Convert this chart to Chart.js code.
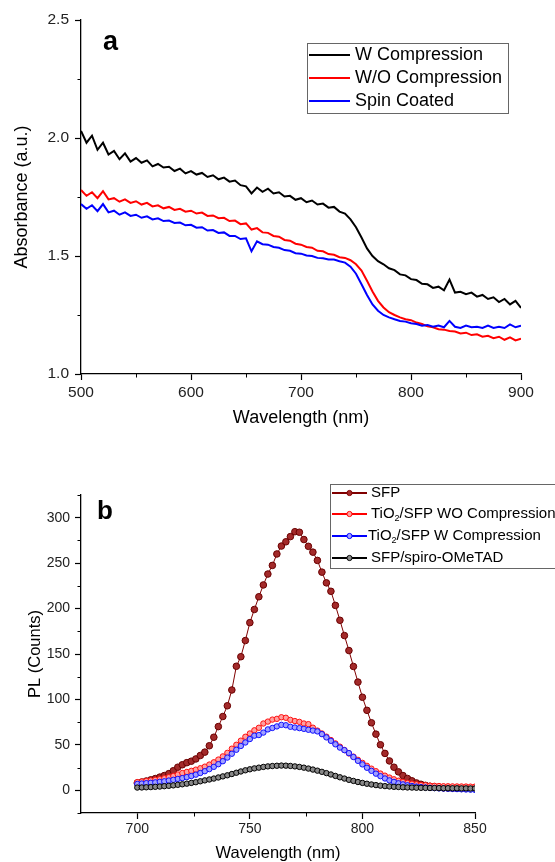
<!DOCTYPE html>
<html>
<head>
<meta charset="utf-8">
<script src="https://cdn.jsdelivr.net/npm/chart.js@4.4.1/dist/chart.umd.min.js"></script>
<style>
html, body { margin: 0; padding: 0; background: #fff; }
#wrap { position: relative; width: 555px; height: 862px; }
canvas { position: absolute; left: 0; }
#absChart { top: 0; }
#plChart { top: 430px; }
</style>
</head>
<body>
<div id="wrap">
  <canvas id="absChart" width="555" height="430"></canvas>
  <canvas id="plChart" width="555" height="432"></canvas>
</div>
<script>
function range(start, end, step) {
    const out = [];
    for (let v = start; v <= end + 1e-9; v += step) out.push(Math.round(v * 100) / 100);
    return out;
}

// panel a: absorbance, every 5 nm from 500 to 900
const absWavelength = range(500, 900, 5);
const absLabels = ['W Compression', 'W/O Compression', 'Spin Coated'];
const wCompression = [
    2.03, 1.98, 2.01, 1.95, 1.98, 1.93, 1.945, 1.91, 1.935, 1.90,
    1.915, 1.895, 1.905, 1.88, 1.89, 1.875, 1.878, 1.86, 1.87, 1.85,
    1.86, 1.845, 1.852, 1.835, 1.842, 1.825, 1.832, 1.815, 1.82, 1.80,
    1.795, 1.765, 1.79, 1.772, 1.785, 1.765, 1.77, 1.752, 1.755, 1.738,
    1.745, 1.728, 1.735, 1.718, 1.722, 1.705, 1.708, 1.688, 1.68, 1.655,
    1.622, 1.578, 1.532, 1.50, 1.478, 1.465, 1.448, 1.44, 1.422, 1.418,
    1.402, 1.398, 1.382, 1.38, 1.365, 1.37, 1.355, 1.40, 1.345, 1.348,
    1.338, 1.345, 1.328, 1.335, 1.318, 1.325, 1.305, 1.318, 1.295, 1.31,
    1.28
];
const woCompression = [
    1.78, 1.755, 1.77, 1.745, 1.775, 1.74, 1.745, 1.73, 1.74, 1.725,
    1.732, 1.718, 1.725, 1.71, 1.715, 1.702, 1.708, 1.695, 1.70, 1.688,
    1.692, 1.68, 1.684, 1.67, 1.672, 1.66, 1.662, 1.648, 1.65, 1.635,
    1.638, 1.612, 1.618, 1.60, 1.598, 1.585, 1.582, 1.568, 1.565, 1.552,
    1.548, 1.538, 1.535, 1.522, 1.52, 1.508, 1.505, 1.495, 1.492, 1.482,
    1.465, 1.438, 1.395, 1.35, 1.31, 1.282, 1.262, 1.25, 1.24, 1.232,
    1.228, 1.218, 1.212, 1.202, 1.198, 1.19, 1.188, 1.182, 1.18, 1.172,
    1.175, 1.165, 1.168, 1.158, 1.162, 1.152, 1.158, 1.145, 1.155, 1.142,
    1.15
];
const spinCoated = [
    1.72, 1.70, 1.715, 1.69, 1.72, 1.685, 1.692, 1.675, 1.685, 1.67,
    1.675, 1.662, 1.668, 1.655, 1.66, 1.648, 1.65, 1.64, 1.642, 1.63,
    1.632, 1.62, 1.622, 1.608, 1.61, 1.598, 1.60, 1.585, 1.585, 1.572,
    1.575, 1.52, 1.562, 1.55, 1.548, 1.538, 1.535, 1.525, 1.522, 1.512,
    1.51, 1.502, 1.50, 1.492, 1.49, 1.485, 1.485, 1.478, 1.472, 1.455,
    1.425, 1.38, 1.335, 1.295, 1.268, 1.25, 1.24, 1.232, 1.225, 1.222,
    1.215, 1.212, 1.205, 1.208, 1.20, 1.205, 1.198, 1.225, 1.20, 1.195,
    1.205, 1.198, 1.20, 1.195, 1.205, 1.195, 1.20, 1.195, 1.21, 1.198,
    1.205
];

// panel b: PL, every 2 nm from 700 to 850
const plWavelength = range(700, 850, 2);
const plLabels = ['SFP', 'TiO₂/SFP WO Compression', 'TiO₂/SFP W Compression', 'SFP/spiro-OMeTAD'];
const sfp = [
    8.0, 9.1, 10.2, 11.5, 12.9, 14.5, 16.2, 18.3, 21.5, 25.4,
    28.1, 30.4, 32.0, 34.5, 38.3, 42.0, 49.0, 58.4, 70.1, 81.2,
    93.0, 110.4, 136.5, 147.0, 164.8, 184.5, 199.0, 213.0, 226.0, 238.0,
    247.5, 260.1, 268.8, 273.5, 279.2, 284.6, 284.0, 276.0, 268.5, 262.1,
    253.0, 240.1, 228.3, 219.0, 203.5, 187.1, 170.3, 153.8, 136.3, 119.1,
    102.4, 88.0, 74.3, 61.8, 50.1, 40.6, 32.3, 25.4, 20.3, 16.2,
    13.0, 10.4, 8.1, 6.6, 5.4, 4.4, 3.7, 3.1, 2.7, 2.5,
    2.3, 2.2, 2.1, 2.0, 2.0, 1.9
];
const tio2Wo = [
    9.0, 9.6, 10.2, 10.8, 11.5, 12.2, 13.2, 14.4, 15.7, 17.4,
    19.0, 20.2, 21.4, 22.7, 24.3, 26.0, 28.3, 30.8, 33.8, 37.3,
    41.2, 45.8, 50.1, 54.6, 58.9, 62.5, 66.0, 68.8, 73.5, 75.6,
    77.8, 78.6, 80.4, 79.8, 77.5, 76.2, 75.3, 73.5, 72.8, 68.9,
    65.7, 62.5, 59.0, 55.3, 51.6, 48.0, 44.3, 40.6, 37.0, 33.5,
    30.2, 26.9, 23.8, 21.0, 18.4, 16.1, 14.0, 12.1, 10.5, 9.2,
    8.1, 7.2, 6.5, 5.9, 5.5, 5.1, 4.9, 4.7, 4.5, 4.4,
    4.3, 4.2, 4.2, 4.1, 4.0, 4.0
];
const tio2W = [
    7.0, 7.4, 7.8, 8.2, 8.7, 9.3, 9.9, 10.7, 11.5, 12.5,
    13.4, 14.5, 15.7, 17.2, 19.0, 21.0, 23.3, 25.8, 28.7, 32.0,
    36.0, 40.2, 44.6, 48.8, 52.6, 56.4, 60.1, 60.8, 63.5, 67.0,
    68.6, 70.3, 72.0, 71.6, 69.9, 69.1, 68.4, 67.6, 66.6, 65.7,
    64.8, 61.8, 58.2, 54.4, 50.6, 47.0, 44.2, 40.9, 36.6, 32.4,
    28.5, 24.8, 21.4, 18.3, 15.5, 13.0, 10.9, 9.2, 7.7, 6.5,
    5.5, 4.7, 4.1, 3.5, 3.1, 2.7, 2.4, 2.1, 1.9, 1.7,
    1.5, 1.3, 1.1, 0.9, 0.7, 0.5
];
const spiro = [
    3.0, 3.1, 3.3, 3.5, 3.8, 4.1, 4.5, 4.9, 5.4, 6.0,
    6.6, 7.3, 8.1, 8.9, 9.9, 10.9, 11.9, 12.9, 14.1, 15.3,
    16.5, 17.9, 19.3, 20.7, 22.0, 23.1, 24.1, 24.9, 25.7, 26.3,
    26.7, 27.0, 27.2, 27.1, 26.8, 26.3, 25.7, 24.9, 23.9, 22.8,
    21.6, 20.3, 18.9, 17.4, 15.8, 14.3, 12.9, 11.5, 10.3, 9.1,
    8.1, 7.2, 6.4, 5.7, 5.1, 4.6, 4.2, 3.8, 3.6, 3.3,
    3.1, 3.0, 2.8, 2.7, 2.6, 2.5, 2.5, 2.4, 2.3, 2.3,
    2.2, 2.2, 2.1, 2.1, 2.0, 2.0
];

const FONT = "'Liberation Sans', Arial, sans-serif";

function xy(xs, ys) {
    return xs.map((x, i) => ({ x: x, y: ys[i] }));
}

// short minor ticks pointing out of the plot
function minorTicks(cfg) {
    return {
        id: 'minorTicks',
        afterDraw(chart) {
            const ctx = chart.ctx;
            ctx.save();
            ctx.strokeStyle = '#000';
            ctx.lineWidth = 1;
            const sx = chart.scales.x, sy = chart.scales.y;
            cfg.x.forEach(v => {
                const p = Math.round(sx.getPixelForValue(v)) + 0.5;
                ctx.beginPath(); ctx.moveTo(p, sx.top); ctx.lineTo(p, sx.top + 3.5); ctx.stroke();
            });
            cfg.y.forEach(v => {
                const p = Math.round(sy.getPixelForValue(v)) + 0.5;
                ctx.beginPath(); ctx.moveTo(sy.right, p); ctx.lineTo(sy.right - 3.5, p); ctx.stroke();
            });
            ctx.restore();
        }
    };
}

// framed legend inside the plot plus the panel letter
function insetLegend(cfg) {
    return {
        id: 'insetLegend',
        afterDraw(chart) {
            const ctx = chart.ctx;
            ctx.save();
            ctx.font = 'bold ' + cfg.letterSize + 'px ' + FONT;
            ctx.fillStyle = '#000';
            ctx.textBaseline = 'alphabetic';
            ctx.fillText(cfg.letter, cfg.letterX, cfg.letterY);

            const b = cfg.box;
            ctx.strokeStyle = '#666';
            ctx.lineWidth = 1;
            ctx.strokeRect(b[0] + 0.5, b[1] + 0.5, b[2], b[3]);

            cfg.items.forEach((it, i) => {
                const y = cfg.rows[i];
                ctx.strokeStyle = it.color;
                ctx.lineWidth = 1.8;
                ctx.beginPath(); ctx.moveTo(cfg.lineX[0], y); ctx.lineTo(cfg.lineX[1], y); ctx.stroke();
                if (it.fill) {
                    ctx.beginPath();
                    ctx.arc((cfg.lineX[0] + cfg.lineX[1]) / 2, y, 2.6, 0, Math.PI * 2);
                    ctx.fillStyle = it.fill; ctx.fill();
                    ctx.lineWidth = 1; ctx.stroke();
                }
                ctx.fillStyle = '#000';
                ctx.textBaseline = 'middle';
                const parts = it.label.split('₂');
                let x = it.textX || cfg.textX;
                ctx.font = cfg.fontSize + 'px ' + FONT;
                ctx.fillText(parts[0], x, y);
                if (parts.length > 1) {
                    x += ctx.measureText(parts[0]).width;
                    ctx.font = Math.round(cfg.fontSize * 0.62) + 'px ' + FONT;
                    ctx.fillText('2', x, y + 5);
                    x += ctx.measureText('2').width;
                    ctx.font = cfg.fontSize + 'px ' + FONT;
                    ctx.fillText(parts[1], x, y);
                }
            });
            ctx.restore();
        }
    };
}

function axis(opts) {
    return {
        type: 'linear',
        min: opts.min,
        max: opts.max,
        border: { display: true, color: '#000', width: 1.3 },
        grid: { drawOnChartArea: false, drawTicks: true, tickLength: 6, tickColor: '#000', tickWidth: 1.2 },
        ticks: {
            color: '#222',
            padding: opts.pad,
            font: { family: FONT, size: opts.tickSize },
            autoSkip: false,
            maxRotation: 0,
            callback: opts.fmt
        },
        title: {
            display: true,
            text: opts.title,
            color: '#000',
            font: { family: FONT, size: opts.titleSize, lineHeight: opts.titleLH },
            padding: opts.titlePad
        },
        afterBuildTicks: s => { s.ticks = opts.major.map(v => ({ value: v })); },
        afterFit: s => {
            if (s.isHorizontal()) s.height = opts.size; else s.width = opts.size;
        }
    };
}

new Chart(document.getElementById('absChart'), {
    type: 'line',
    data: {
        datasets: [
            { label: absLabels[0], data: xy(absWavelength, wCompression), borderColor: '#000000', order: 3 },
            { label: absLabels[1], data: xy(absWavelength, woCompression), borderColor: '#ff0000', order: 2 },
            { label: absLabels[2], data: xy(absWavelength, spinCoated), borderColor: '#0000ff', order: 1 }
        ]
    },
    options: {
        responsive: false,
        animation: false,
        events: [],
        layout: { padding: { top: 20, right: 34, bottom: 1, left: 0 } },
        elements: { point: { radius: 0 }, line: { borderWidth: 2, tension: 0 } },
        plugins: { legend: { display: false }, tooltip: { enabled: false } },
        scales: {
            x: axis({ min: 500, max: 900, major: [500, 600, 700, 800, 900], size: 55, pad: 3,
                tickSize: 15.5, title: 'Wavelength (nm)', titleSize: 18, titleLH: 1.2,
                titlePad: { top: 0, bottom: 0 }, fmt: v => String(v) }),
            y: axis({ min: 1.0, max: 2.5, major: [1.0, 1.5, 2.0, 2.5], size: 81, pad: 6,
                tickSize: 15.5, title: 'Absorbance (a.u.)', titleSize: 18, titleLH: 1.2,
                titlePad: { top: 11, bottom: 0 }, fmt: v => v.toFixed(1) })
        }
    },
    plugins: [
        minorTicks({ x: [550, 650, 750, 850], y: [1.25, 1.75, 2.25] }),
        insetLegend({
            letter: 'a', letterSize: 27, letterX: 103, letterY: 50,
            box: [307, 43, 201, 70], rows: [55, 78, 101], lineX: [309, 350], textX: 355, fontSize: 18,
            items: [
                { label: absLabels[0], color: '#000000' },
                { label: absLabels[1], color: '#ff0000' },
                { label: absLabels[2], color: '#0000ff' }
            ]
        })
    ]
});

new Chart(document.getElementById('plChart'), {
    type: 'line',
    data: {
        datasets: [
            { label: plLabels[0], data: xy(plWavelength, sfp), borderColor: '#800000', pointBorderColor: '#6a0000', pointBackgroundColor: '#a32a2a', pointRadius: 3.3, order: 4 },
            { label: plLabels[1], data: xy(plWavelength, tio2Wo), borderColor: '#ff0000', pointBorderColor: '#ff1010', pointBackgroundColor: '#ffa0a0', order: 3 },
            { label: plLabels[2], data: xy(plWavelength, tio2W), borderColor: '#0000ff', pointBorderColor: '#1010ff', pointBackgroundColor: '#a0a0ff', order: 2 },
            { label: plLabels[3], data: xy(plWavelength, spiro), borderColor: '#000000', pointBorderColor: '#000000', pointBackgroundColor: '#888888', order: 1 }
        ]
    },
    options: {
        responsive: false,
        animation: false,
        events: [],
        layout: { padding: { top: 65, right: 80, bottom: 0, left: 0 } },
        elements: { point: { radius: 2.7, borderWidth: 1 }, line: { borderWidth: 1, tension: 0 } },
        plugins: { legend: { display: false }, tooltip: { enabled: false } },
        scales: {
            x: axis({ min: 675, max: 850, major: [700, 750, 800, 850], size: 49, pad: 2,
                tickSize: 14, title: 'Wavelength (nm)', titleSize: 16.5, titleLH: 1.0,
                titlePad: { top: 0, bottom: 0 }, fmt: v => String(v) }),
            y: axis({ min: -25, max: 325, major: [0, 50, 100, 150, 200, 250, 300], size: 81, pad: 5,
                tickSize: 14, title: 'PL (Counts)', titleSize: 16.5, titleLH: 1.2,
                titlePad: { top: 26, bottom: 0 }, fmt: v => String(v) })
        }
    },
    plugins: [
        minorTicks({ x: [725, 775, 825], y: [-25, 25, 75, 125, 175, 225, 275, 325] }),
        insetLegend({
            letter: 'b', letterSize: 26, letterX: 97, letterY: 89,
            box: [330, 54, 240, 84], rows: [63, 84, 106, 128], lineX: [332, 367], textX: 371, fontSize: 15,
            items: [
                { label: plLabels[0], color: '#800000', fill: '#a32a2a' },
                { label: plLabels[1], color: '#ff0000', fill: '#ffa0a0' },
                { label: plLabels[2], color: '#0000ff', fill: '#a0a0ff', textX: 368 },
                { label: plLabels[3], color: '#000000', fill: '#888888' }
            ]
        })
    ]
});
</script>
</body>
</html>
